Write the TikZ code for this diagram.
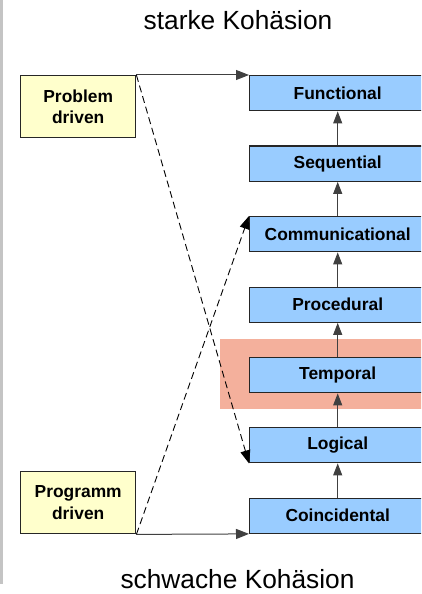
\documentclass[tikz,border=0pt]{standalone}
\usepackage{fontspec}
\setmainfont{Liberation Sans}
\usetikzlibrary{arrows.meta}
\definecolor{boxblue}{HTML}{99CCFF}
\definecolor{boxyellow}{HTML}{FFFFCC}
\definecolor{salmonbg}{HTML}{F4B09C}
\definecolor{edgegray}{HTML}{C4C4C4}
\definecolor{linegray}{HTML}{404040}
\begin{document}
\begin{tikzpicture}[x=1bp,y=-1bp,
  levelbox/.style={draw=black!85, line width=1.4bp, fill=boxblue, anchor=north west,
    minimum width=176bp, minimum height=35bp, inner sep=0pt,
    font=\fontsize{17.4bp}{21bp}\selectfont\bfseries},
  drivebox/.style={draw=black!85, line width=1.4bp, fill=boxyellow, anchor=north west,
    minimum width=115bp, minimum height=62bp, inner sep=0pt, align=center,
    font=\fontsize{17.4bp}{21.5bp}\selectfont\bfseries},
  uparrow/.style={draw=linegray, line width=1bp, -{Triangle[length=12bp,width=9bp]}},
  solidarrow/.style={draw=linegray, line width=1bp, -{Triangle[length=13bp,width=10bp]}},
  dasharrow/.style={draw=black, line width=0.9bp, dash pattern=on 7bp off 4bp, -{Triangle[length=13bp,width=10bp]}},
  title/.style={font=\fontsize{26.3bp}{30bp}\selectfont, anchor=base, inner sep=0pt}
]
\useasboundingbox (0,0) rectangle (421,594);
\clip (0,0) rectangle (421,594);
\fill[edgegray] (0,0) rectangle (3,584);
\fill[salmonbg] (220,339) rectangle (425,409);

\node[title] (top) at (238,30) {starke Kohäsion};
\node[title] (bot) at (237.5,588) {schwache Kohäsion};

\node[levelbox] (fun) at (249,75) {Functional};
\node[levelbox] (seq) at (249,145.5) {Sequential};
\node[levelbox] (com) at (249,216) {Communicational};
\node[levelbox] (pro) at (249,286.5) {Procedural};
\node[levelbox] (tem) at (249,357) {Temporal};
\node[levelbox] (log) at (249,427) {Logical};
\node[levelbox] (coi) at (249,497.5) {Coincidental};

\node[drivebox] (prob) at (20,75) {Problem\\driven};
\node[drivebox] (prog) at (20,471) {Programm\\driven};

\draw[uparrow] (seq.north) -- (fun.south);
\draw[uparrow] (com.north) -- (seq.south);
\draw[uparrow] (pro.north) -- (com.south);
\draw[uparrow] (tem.north) -- (pro.south);
\draw[uparrow] (log.north) -- (tem.south);
\draw[uparrow] (coi.north) -- (log.south);

\draw[solidarrow] (prob.north east) -- (fun.north west);
\draw[solidarrow] (prog.south east) -- (coi.south west);
\draw[dasharrow] (prob.north east) -- (log.south west);
\draw[dasharrow] (prog.south east) -- (com.north west);
\end{tikzpicture}
\end{document}
